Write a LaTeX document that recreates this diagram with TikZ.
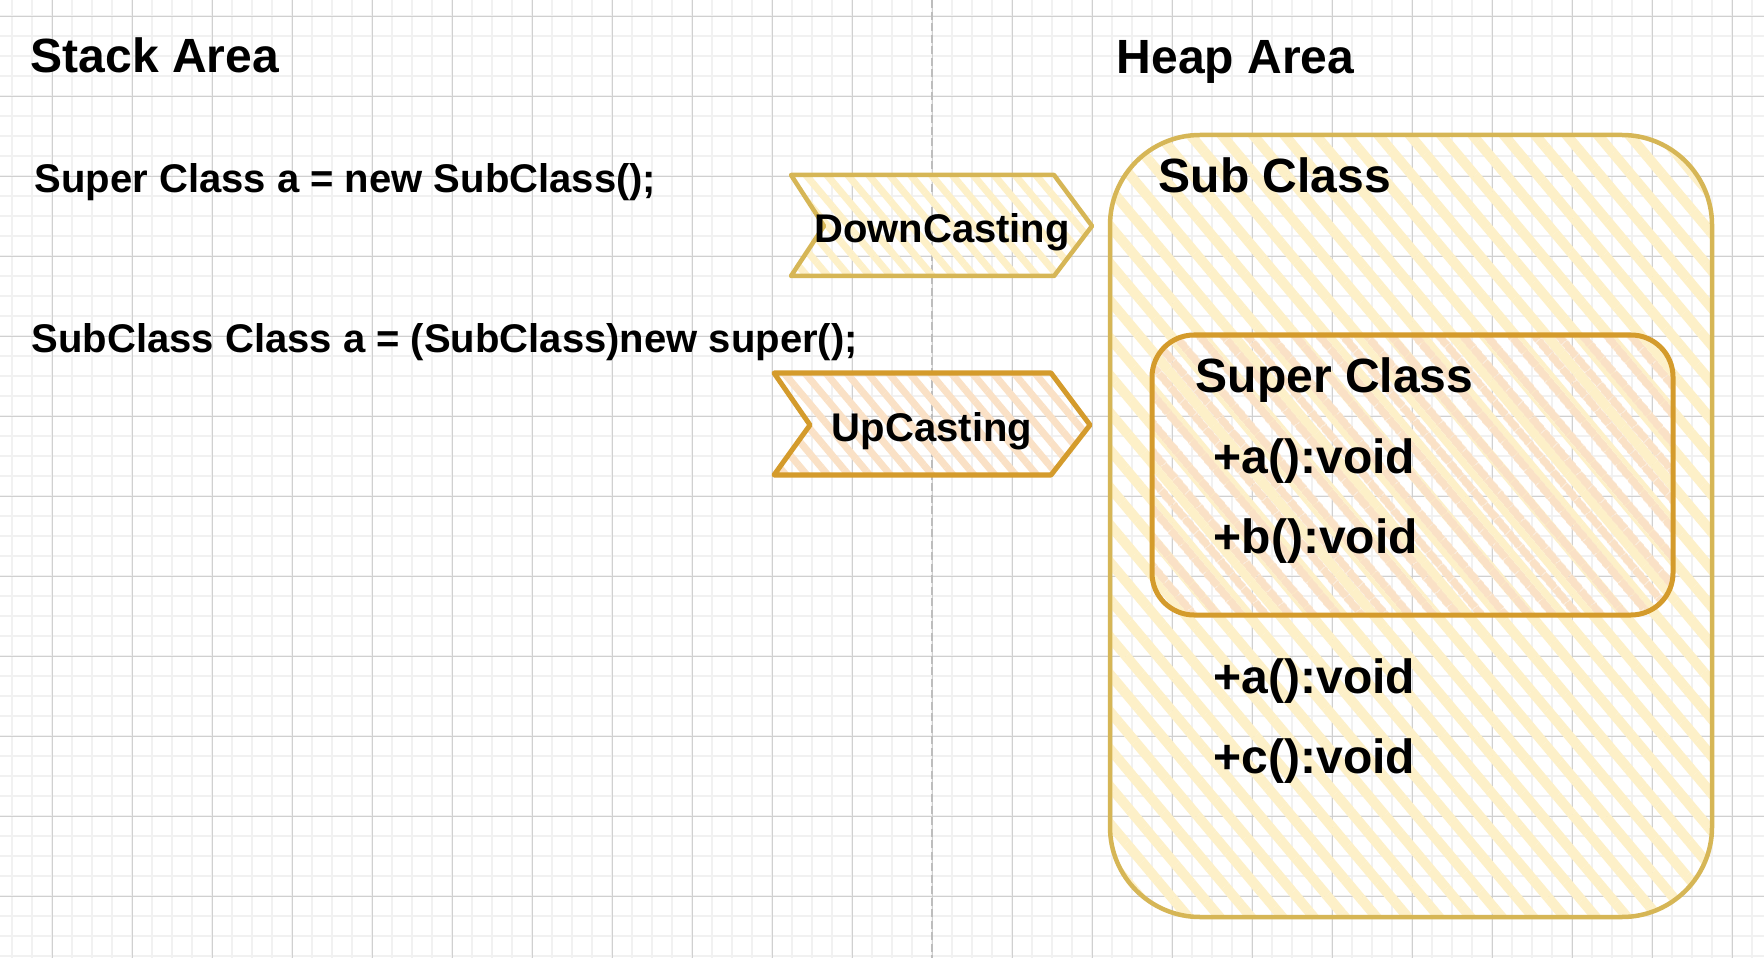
\documentclass[tikz,border=0pt]{standalone}
\usepackage{fontspec}
\setmainfont{Liberation Sans}
\usetikzlibrary{patterns.meta}
\definecolor{GridMinor}{HTML}{F1F1F1}
\definecolor{GridMajor}{HTML}{D0D0D0}
\definecolor{DividerGray}{HTML}{BDBDBD}
\definecolor{SubFill}{HTML}{FDF0C8}
\definecolor{SubLine}{HTML}{D6B656}
\definecolor{SupFill}{HTML}{FAE1C6}
\definecolor{SupLine}{HTML}{D49B2C}
\begin{document}
\begin{tikzpicture}[x=0.01cm, y=-0.01cm, line join=round, line cap=round,
  minorgrid/.style={GridMinor, line width=0.017cm, line cap=butt},
  majorgrid/.style={GridMajor, line width=0.011cm, line cap=butt},
  divider/.style={DividerGray, line width=0.02cm, line cap=butt, dash pattern=on 0.08cm off 0.035cm},
  subbox/.style={draw=SubLine, line width=0.045cm, pattern={Lines[angle=-50, distance=0.24cm, line width=0.10cm]}, pattern color=SubFill},
  supbox/.style={draw=SupLine, line width=0.05cm, pattern={Lines[angle=-50, distance=0.18cm, line width=0.08cm]}, pattern color=SupFill},
  downstep/.style={draw=SubLine, line width=0.045cm, pattern={Lines[angle=-50, distance=0.16cm, line width=0.07cm]}, pattern color=SubFill},
  upstep/.style={draw=SupLine, line width=0.05cm, pattern={Lines[angle=-50, distance=0.16cm, line width=0.07cm]}, pattern color=SupFill},
  areatitle/.style={anchor=base west, inner sep=0pt, font=\bfseries\fontsize{13.66}{16}\selectfont},
  codeline/.style={anchor=base west, inner sep=0pt, font=\bfseries\fontsize{11.38}{14}\selectfont},
  castlabel/.style={anchor=base, inner sep=0pt, font=\bfseries\fontsize{11.38}{14}\selectfont},
  member/.style={anchor=base west, inner sep=0pt, font=\bfseries\fontsize{13.66}{16}\selectfont}]
\useasboundingbox (0,0) rectangle (1764,958);
\fill[white] (0,0) rectangle (1764,958);
% grid paper
\foreach \gx in {12.3,32.3,...,1764} \draw[minorgrid] (\gx,0) -- (\gx,958);
\foreach \gy in {16.3,36.3,...,958} \draw[minorgrid] (0,\gy) -- (1764,\gy);
\foreach \gx in {52.3,132.3,...,1764} \draw[majorgrid] (\gx,0) -- (\gx,958);
\foreach \gy in {16.3,96.3,...,958} \draw[majorgrid] (0,\gy) -- (1764,\gy);
\draw[divider] (932.3,0) -- (932.3,958);
% heap objects
\draw[subbox, rounded corners=0.9cm] (1110,135) rectangle (1712,917);
\draw[supbox, rounded corners=0.42cm] (1152,335) rectangle (1673,615);
% casting steps
\draw[downstep] (791,175) -- (1054,175) -- (1092,226) -- (1054,276) -- (791,276) -- (824,226) -- cycle;
\draw[upstep] (774,373) -- (1051,373) -- (1090,425) -- (1051,475) -- (774,475) -- (810,425) -- cycle;
% texts
\node[areatitle] (stackTitle) at (30,73) {Stack Area};
\node[areatitle] (heapTitle) at (1116,74) {Heap Area};
\node[codeline] (codeDown) at (34,193) {Super Class a = new SubClass();};
\node[codeline] (codeUp) at (31,353) {SubClass Class a = (SubClass)new super();};
\node[castlabel] (downCast) at (942,243) {DownCasting};
\node[castlabel] (upCast) at (932,442) {UpCasting};
\node[member] (subTitle) at (1158,193) {Sub Class};
\node[member] (superTitle) at (1195,393) {Super Class};
\node[member] (superA) at (1213,473) {+a():void};
\node[member] (superB) at (1213,553) {+b():void};
\node[member] (subA) at (1213,693) {+a():void};
\node[member] (subC) at (1213,773) {+c():void};
\end{tikzpicture}
\end{document}
